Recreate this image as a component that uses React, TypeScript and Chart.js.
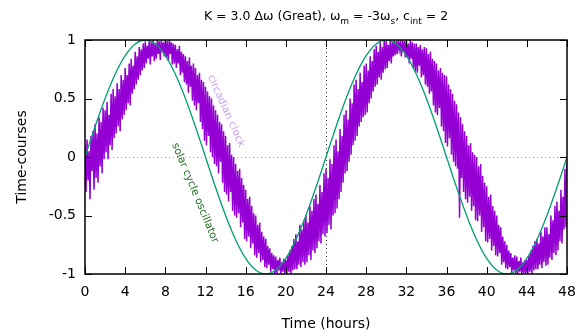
import React, { useEffect, useRef } from "react";
import { Chart, registerables } from "chart.js";

Chart.register(...registerables);

// ---- data ----
const xTickValues = [0, 4, 8, 12, 16, 20, 24, 28, 32, 36, 40, 44, 48];
const yTickValues = [-1, -0.5, 0, 0.5, 1];

const solarHours = [
  0, 1, 2, 3, 4, 5, 6, 7, 8, 9, 10, 11, 12, 13, 14, 15, 16, 17, 18, 19, 20, 21, 22, 23, 24,
  25, 26, 27, 28, 29, 30, 31, 32, 33, 34, 35, 36, 37, 38, 39, 40, 41, 42, 43, 44, 45, 46, 47, 48,
];
const solarValues = [
  0, 0.259, 0.5, 0.707, 0.866, 0.966, 1, 0.966, 0.866, 0.707, 0.5, 0.259,
  0, -0.259, -0.5, -0.707, -0.866, -0.966, -1, -0.966, -0.866, -0.707, -0.5, -0.259,
  0, 0.259, 0.5, 0.707, 0.866, 0.966, 1, 0.966, 0.866, 0.707, 0.5, 0.259,
  0, -0.259, -0.5, -0.707, -0.866, -0.966, -1, -0.966, -0.866, -0.707, -0.5, -0.259,
  0,
];

// circadian clock, sampled every 0.1 h (one row per hour)
const clockStepHours = 0.1;
const clockValues = [
  0.10, -0.30, 0.15, -0.20, 0.05, -0.36, 0.18, -0.12, 0.22, -0.28,
  0.28, -0.18, 0.20, -0.22, 0.34, -0.08, 0.30, -0.14, 0.42, -0.02,
  0.40, 0.04, 0.47, -0.02, 0.36, 0.10, 0.54, 0.06, 0.58, 0.16,
  0.52, 0.20, 0.63, 0.26, 0.58, 0.22, 0.70, 0.32, 0.66, 0.36,
  0.76, 0.40, 0.70, 0.46, 0.80, 0.44, 0.84, 0.54, 0.78, 0.58,
  0.90, 0.62, 0.86, 0.66, 0.94, 0.70, 0.92, 0.74, 0.97, 0.76,
  0.99, 0.80, 0.95, 0.84, 1.00, 0.79, 0.98, 0.86, 1.00, 0.82,
  0.97, 0.84, 1.00, 0.88, 0.99, 0.83, 1.00, 0.90, 0.98, 0.86,
  1.00, 0.85, 0.99, 0.82, 1.00, 0.88, 0.98, 0.79, 0.97, 0.80,
  0.96, 0.76, 0.92, 0.80, 0.95, 0.70, 0.90, 0.72, 0.88, 0.64,
  0.86, 0.62, 0.82, 0.55, 0.85, 0.60, 0.78, 0.48, 0.80, 0.44,
  0.76, 0.40, 0.70, 0.46, 0.72, 0.30, 0.66, 0.24, 0.64, 0.14,
  0.60, 0.10, 0.56, 0.18, 0.52, 0.04, 0.50, 0.00, 0.44, -0.06,
  0.40, -0.08, 0.36, -0.14, 0.30, -0.04, 0.28, -0.22, 0.22, -0.30,
  0.18, -0.32, 0.10, -0.38, 0.12, -0.30, 0.02, -0.46, 0.00, -0.50,
  -0.06, -0.52, -0.12, -0.48, -0.10, -0.60, -0.18, -0.56, -0.24, -0.70,
  -0.28, -0.72, -0.36, -0.68, -0.34, -0.78, -0.42, -0.74, -0.48, -0.84,
  -0.50, -0.86, -0.58, -0.82, -0.56, -0.90, -0.64, -0.88, -0.68, -0.94,
  -0.70, -0.95, -0.76, -0.92, -0.78, -0.98, -0.82, -0.96, -0.84, -1.00,
  -0.85, -1.00, -0.88, -0.97, -0.86, -1.00, -0.90, -0.98, -0.87, -1.00,
  -0.88, -1.00, -0.84, -0.98, -0.80, -1.00, -0.76, -0.97, -0.70, -0.96,
  -0.66, -0.96, -0.72, -0.92, -0.58, -0.94, -0.62, -0.90, -0.54, -0.92,
  -0.50, -0.90, -0.56, -0.84, -0.42, -0.88, -0.46, -0.80, -0.36, -0.82,
  -0.32, -0.78, -0.40, -0.72, -0.24, -0.74, -0.30, -0.66, -0.14, -0.68,
  -0.10, -0.65, -0.18, -0.58, -0.02, -0.62, -0.06, -0.50, 0.10, -0.48,
  0.15, -0.44, 0.05, -0.36, 0.24, -0.30, 0.18, -0.22, 0.36, -0.14,
  0.40, -0.12, 0.32, -0.04, 0.50, 0.02, 0.46, 0.10, 0.62, 0.14,
  0.66, 0.18, 0.58, 0.26, 0.72, 0.30, 0.64, 0.34, 0.78, 0.36,
  0.80, 0.38, 0.74, 0.46, 0.86, 0.50, 0.82, 0.56, 0.92, 0.60,
  0.95, 0.62, 0.90, 0.68, 0.98, 0.66, 0.94, 0.72, 1.00, 0.75,
  1.00, 0.76, 0.96, 0.82, 1.00, 0.80, 0.98, 0.86, 1.00, 0.87,
  0.99, 0.88, 1.00, 0.92, 0.98, 0.86, 1.00, 0.90, 0.99, 0.85,
  1.00, 0.85, 0.97, 0.80, 1.00, 0.84, 0.98, 0.76, 0.97, 0.73,
  0.97, 0.72, 0.94, 0.78, 0.96, 0.68, 0.92, 0.70, 0.94, 0.62,
  0.93, 0.60, 0.88, 0.54, 0.90, 0.56, 0.84, 0.44, 0.82, 0.38,
  0.80, 0.36, 0.74, 0.42, 0.76, 0.26, 0.72, 0.22, 0.70, 0.12,
  0.69, 0.09, 0.62, 0.16, 0.58, 0.02, 0.54, -0.04, 0.48, -0.08,
  0.45, -0.10, 0.38, -0.52, 0.34, -0.18, 0.28, -0.30, 0.22, -0.36,
  0.18, -0.39, 0.10, -0.34, 0.12, -0.46, 0.04, -0.42, 0.02, -0.54,
  0.00, -0.55, -0.08, -0.50, -0.06, -0.64, -0.16, -0.60, -0.22, -0.72,
  -0.25, -0.73, -0.34, -0.70, -0.32, -0.80, -0.42, -0.76, -0.46, -0.84,
  -0.50, -0.85, -0.58, -0.82, -0.60, -0.92, -0.68, -0.90, -0.72, -0.95,
  -0.75, -0.96, -0.80, -0.94, -0.82, -0.99, -0.86, -0.97, -0.84, -1.00,
  -0.85, -1.00, -0.89, -0.98, -0.86, -1.00, -0.90, -0.99, -0.88, -1.00,
  -0.88, -1.00, -0.84, -0.98, -0.80, -1.00, -0.76, -0.97, -0.72, -0.96,
  -0.70, -0.96, -0.74, -0.92, -0.64, -0.95, -0.68, -0.90, -0.60, -0.93,
  -0.60, -0.92, -0.66, -0.86, -0.50, -0.88, -0.54, -0.82, -0.42, -0.84,
  -0.38, -0.80, -0.46, -0.72, -0.28, -0.74, -0.34, -0.62, -0.10, -0.60,
  -0.05,
];

const xTitle = "Time (hours)";
const yTitle = "Time-courses";
const clockLabel = "circadian clock";
const solarLabel = "solar cycle oscillator";
// title pieces: [text, isSubscript]
const titleParts: [string, boolean][] = [
  ["K = 3.0 \u0394\u03c9 (Great), \u03c9", false],
  ["m", true],
  [" = -3\u03c9", false],
  ["s", true],
  [", c", false],
  ["int", true],
  [" = 2", false],
];

const FONT = "'DejaVu Sans', Verdana, sans-serif";
const PURPLE = "#9400d3";
const GREEN = "#009e73";

const decorPlugin = {
  id: "gnuplotDecor",
  beforeDatasetsDraw(chart: any) {
    const { ctx, chartArea: a, scales } = chart;
    const xs = scales.x;
    const ys = scales.y;
    ctx.save();
    ctx.lineWidth = 1;
    ctx.setLineDash([1, 3]);
    ctx.strokeStyle = "#a0a0a0";
    const y0 = Math.round(ys.getPixelForValue(0)) + 0.5;
    ctx.beginPath();
    ctx.moveTo(a.left, y0);
    ctx.lineTo(a.right, y0);
    ctx.stroke();
    ctx.strokeStyle = "#333";
    const x24 = Math.round(xs.getPixelForValue(24)) + 0.5;
    ctx.beginPath();
    ctx.moveTo(x24, a.top);
    ctx.lineTo(x24, a.bottom);
    ctx.stroke();
    ctx.restore();
  },
  afterDatasetsDraw(chart: any) {
    const { ctx, chartArea: a, scales } = chart;
    const xs = scales.x;
    const ys = scales.y;
    const L = 7;
    ctx.save();
    ctx.strokeStyle = "#000";
    ctx.lineWidth = 1;
    ctx.beginPath();
    for (const v of xTickValues) {
      const px = Math.round(xs.getPixelForValue(v)) + 0.5;
      ctx.moveTo(px, a.bottom);
      ctx.lineTo(px, a.bottom - L);
      ctx.moveTo(px, a.top);
      ctx.lineTo(px, a.top + L);
    }
    for (const v of yTickValues) {
      const py = Math.round(ys.getPixelForValue(v)) + 0.5;
      ctx.moveTo(a.left, py);
      ctx.lineTo(a.left + L, py);
      ctx.moveTo(a.right, py);
      ctx.lineTo(a.right - L, py);
    }
    ctx.stroke();
    ctx.lineWidth = 1.5;
    ctx.strokeRect(a.left, a.top, a.right - a.left, a.bottom - a.top);

    // curve labels
    ctx.font = `10.5px ${FONT}`;
    ctx.textAlign = "center";
    ctx.textBaseline = "middle";
    ctx.fillStyle = "#c9a2f2";
    ctx.save();
    ctx.translate(226, 111);
    ctx.rotate((66 * Math.PI) / 180);
    ctx.fillText(clockLabel, 0, 0);
    ctx.restore();
    ctx.fillStyle = "#1d6b1d";
    ctx.save();
    ctx.translate(195, 193);
    ctx.rotate((67.5 * Math.PI) / 180);
    ctx.fillText(solarLabel, 0, 0);
    ctx.restore();
    ctx.restore();
  },
  afterDraw(chart: any) {
    const { ctx } = chart;
    ctx.save();
    ctx.fillStyle = "#000";
    ctx.textBaseline = "alphabetic";
    // axis titles
    ctx.font = `14px ${FONT}`;
    ctx.textAlign = "center";
    ctx.fillText(xTitle, 326, 328);
    ctx.save();
    ctx.translate(26, 157);
    ctx.rotate(-Math.PI / 2);
    ctx.fillText(yTitle, 0, 0);
    ctx.restore();
    // title with subscripts
    ctx.textAlign = "left";
    const mainFont = `12.5px ${FONT}`;
    const subFont = `9px ${FONT}`;
    let total = 0;
    for (const [t, sub] of titleParts) {
      ctx.font = sub ? subFont : mainFont;
      total += ctx.measureText(t).width;
    }
    let x = 326 - total / 2;
    for (const [t, sub] of titleParts) {
      ctx.font = sub ? subFont : mainFont;
      ctx.fillText(t, x, sub ? 23.5 : 20);
      x += ctx.measureText(t).width;
    }
    ctx.restore();
  },
};

export default function App() {
  const canvasRef = useRef<HTMLCanvasElement | null>(null);

  useEffect(() => {
    if (!canvasRef.current) return;
    const solarData = solarHours.map((h, i) => ({ x: h, y: solarValues[i] }));
    const clockData = clockValues.map((v, i) => ({
      x: Math.round(i * clockStepHours * 100) / 100,
      y: v,
    }));
    const chart = new Chart(canvasRef.current, {
      type: "line",
      data: {
        datasets: [
          {
            label: solarLabel,
            data: solarData,
            borderColor: GREEN,
            borderWidth: 1.3,
            pointRadius: 0,
            cubicInterpolationMode: "monotone",
            fill: false,
          },
          {
            label: clockLabel,
            data: clockData,
            borderColor: PURPLE,
            borderWidth: 1.5,
            pointRadius: 0,
            tension: 0,
            fill: false,
          },
        ],
      },
      options: {
        animation: false,
        responsive: false,
        maintainAspectRatio: false,
        layout: { padding: { top: 40, right: 12, left: 0, bottom: 0 } },
        plugins: {
          legend: { display: false },
          title: { display: false },
          tooltip: { enabled: false },
        },
        scales: {
          x: {
            type: "linear",
            min: 0,
            max: 48,
            afterFit: (s: any) => {
              s.height = 62;
              s.paddingLeft = 0;
              s.paddingRight = 0;
            },
            afterBuildTicks: (s: any) => {
              s.ticks = xTickValues.map((v) => ({ value: v }));
            },
            grid: { display: false, drawTicks: false },
            border: { display: false },
            ticks: {
              color: "#000",
              font: { family: FONT, size: 14 },
              padding: 10,
              maxRotation: 0,
              autoSkip: false,
              callback: (v: any) => String(v),
            },
          },
          y: {
            type: "linear",
            min: -1,
            max: 1,
            afterFit: (s: any) => {
              s.width = 85;
              s.paddingTop = 0;
              s.paddingBottom = 0;
            },
            afterBuildTicks: (s: any) => {
              s.ticks = yTickValues.map((v) => ({ value: v }));
            },
            grid: { display: false, drawTicks: false },
            border: { display: false },
            ticks: {
              color: "#000",
              font: { family: FONT, size: 14 },
              padding: 9,
              autoSkip: false,
              callback: (v: any) => String(v),
            },
          },
        },
      },
      plugins: [decorPlugin],
    });
    return () => chart.destroy();
  }, []);

  return (
    <div style={{ position: "fixed", left: 0, top: 0, width: 579, height: 336, background: "#fff" }}>
      <canvas ref={canvasRef} width={579} height={336} style={{ width: 579, height: 336 }} />
    </div>
  );
}
